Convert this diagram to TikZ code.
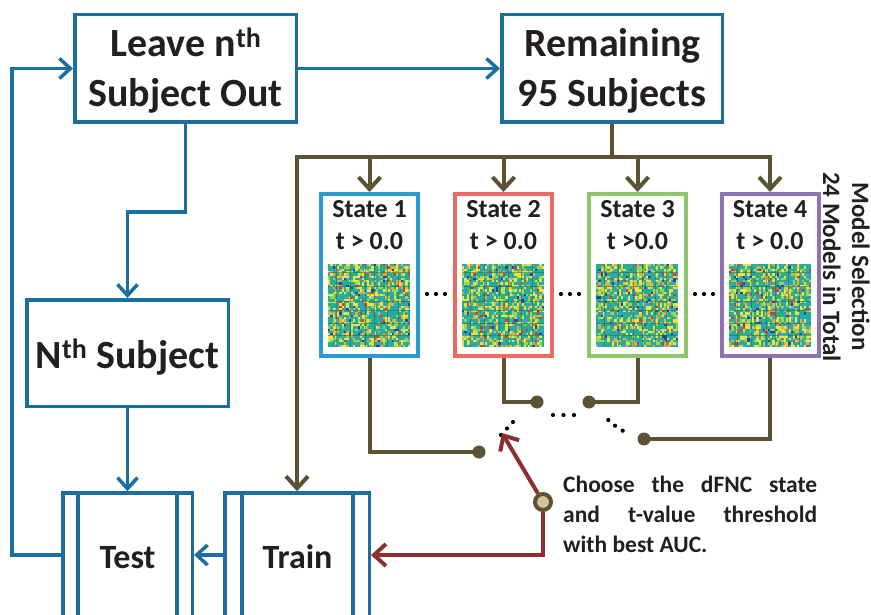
\documentclass[tikz,border=0pt]{standalone}
\usepackage{fontspec}
\setmainfont{Carlito}
\usetikzlibrary{arrows.meta}
\definecolor{mblue}{HTML}{1B6FA0}
\definecolor{mbrown}{HTML}{5C5234}
\definecolor{mred}{HTML}{8E2E2E}
\definecolor{mtan}{HTML}{D3C39D}
\definecolor{mtext}{HTML}{231F20}
\definecolor{sone}{HTML}{2A9BD2}
\definecolor{stwo}{HTML}{EC6A62}
\definecolor{sthree}{HTML}{8DC56B}
\definecolor{sfour}{HTML}{8E74B6}
\definecolor{hmteal}{HTML}{22AE98}
\definecolor{hmyel}{HTML}{F0E23C}
\definecolor{hmlg}{HTML}{A6D050}
\definecolor{hmcy}{HTML}{2FA8CC}
\definecolor{hmor}{HTML}{F0A33A}
\definecolor{hmred}{HTML}{E0392B}
\definecolor{hmblue}{HTML}{2342BE}
\definecolor{hmgrid}{HTML}{2D5F50}
\newcommand{\hmapdraw}[3]{%
  \pgfmathsetseed{#3}%
  \foreach \hi in {0,...,35}{%
    \foreach \hj in {0,...,35}{%
      \pgfmathrandominteger{\hr}{1}{100}%
      \ifnum\hr<44 \def\hc{hmteal}\else
      \ifnum\hr<63 \def\hc{hmyel}\else
      \ifnum\hr<77 \def\hc{hmlg}\else
      \ifnum\hr<89 \def\hc{hmcy}\else
      \ifnum\hr<95 \def\hc{hmor}\else
      \ifnum\hr<98 \def\hc{hmred}\else \def\hc{hmblue}\fi\fi\fi\fi\fi\fi
      \fill[\hc] ({#1+\hi*2.2778},{#2+\hj*2.3056}) rectangle ++(2.35,2.38);
    }}%
  \foreach \hf in {0.1,0.27,0.45,0.56,0.72,0.86}{%
    \draw[hmgrid,opacity=0.5,line width=0.7pt] ({#1+\hf*82},#2) -- ++(0,83);
    \draw[hmgrid,opacity=0.5,line width=0.7pt] (#1,{#2+\hf*83}) -- ++(82,0);
  }%
}
\begin{document}
\begin{tikzpicture}[x=1pt,y=-1pt,
  bigbox/.style={draw=mblue,line width=3.5pt,rectangle,inner sep=0pt},
  sbox/.style={rectangle,line width=4pt,inner sep=0pt,minimum width=97pt,minimum height=162pt},
  bl/.style={draw=mblue,line width=3.5pt},
  br/.style={draw=mbrown,line width=4pt},
  rd/.style={draw=mred,line width=4pt},
  blarrow/.style={-{Straight Barb[length=11pt,width=20pt]}},
  brarrow/.style={-{Straight Barb[length=12pt,width=22pt]}},
  bigtxt/.style={font=\bfseries\fontsize{40}{48}\selectfont,text=mtext,inner sep=0pt,anchor=base},
  midtxt/.style={font=\bfseries\fontsize{34}{40}\selectfont,text=mtext,inner sep=0pt,anchor=base},
  statetxt/.style={font=\bfseries\fontsize{26}{32}\selectfont,text=mtext,inner sep=0pt,anchor=base},
  sidetxt/.style={font=\bfseries\fontsize{25}{30}\selectfont,text=mtext,inner sep=0pt,anchor=base,rotate=-90},
  notetxt/.style={font=\bfseries\fontsize{23.5}{30}\selectfont,text=mtext,inner sep=0pt,anchor=base west},
  bdot/.style={circle,fill=mbrown,inner sep=0pt,minimum size=13pt},
  ldot/.style={fill=black}
]
\useasboundingbox (0,0) rectangle (871,615);
\fill[white] (0,0) rectangle (871,615);
\clip (0,0) rectangle (871,615);

% main boxes
\node[bigbox,minimum width=221.5pt,minimum height=107.5pt] (leave) at (185.5,68.5) {};
\node[bigbox,minimum width=220.5pt,minimum height=107.5pt] (remain) at (612,68.5) {};
\node[bigbox,minimum width=201.5pt,minimum height=106.5pt] (nth) at (127.5,353) {};
\node[bigbox,minimum width=129.5pt,minimum height=124pt] (test) at (127.5,555) {};
\node[bigbox,minimum width=144.5pt,minimum height=124pt] (train) at (297,555) {};
\draw[bl] ([xshift=17pt]test.north west) -- ([xshift=17pt]test.south west);
\draw[bl] ([xshift=-17pt]test.north east) -- ([xshift=-17pt]test.south east);
\draw[bl] ([xshift=19pt]train.north west) -- ([xshift=19pt]train.south west);
\draw[bl] ([xshift=-18pt]train.north east) -- ([xshift=-18pt]train.south east);

% texts of main boxes
\node[bigtxt] (leaveA) at (186,57) {Leave n\textsuperscript{th}};
\node[bigtxt] (leaveB) at (185.5,107) {Subject Out};
\node[bigtxt] (remainA) at (612.5,57) {Remaining};
\node[bigtxt] (remainB) at (612,107) {95 Subjects};
\node[bigtxt] (nthA) at (127.5,368) {N\textsuperscript{th} Subject};
\node[midtxt] (testA) at (127.5,568) {Test};
\node[midtxt] (trainA) at (297.5,568) {Train};

% state boxes
\node[sbox,draw=sone] (s1) at (369.5,275) {};
\node[sbox,draw=stwo] (s2) at (503.5,275) {};
\node[sbox,draw=sthree] (s3) at (637.5,275) {};
\node[sbox,draw=sfour] (s4) at (770,275) {};
\node[statetxt] (s1a) at (369.5,218) {State 1};
\node[statetxt] (s1b) at (369.5,250) {t > 0.0};
\node[statetxt] (s2a) at (503.5,218) {State 2};
\node[statetxt] (s2b) at (503.5,250) {t > 0.0};
\node[statetxt] (s3a) at (637.5,218) {State 3};
\node[statetxt] (s3b) at (637.5,250) {t >0.0};
\node[statetxt] (s4a) at (770,218) {State 4};
\node[statetxt] (s4b) at (770,250) {t > 0.0};
\hmapdraw{328}{264}{11}
\hmapdraw{462}{264}{23}
\hmapdraw{596}{264}{37}
\hmapdraw{729}{264}{51}

% ellipses between boxes
\foreach \ex in {427,436,445,561,570,579,695,704,713}{\fill[ldot] (\ex,294) circle (2.1);}

% side text
\node[sidetxt] (side1) at (852,266.5) {Model Selection};
\node[sidetxt] (side2) at (823,267) {24 Models in Total};

% blue connectors
\coordinate (lp) at (12,0);
\draw[bl,blarrow] (leave) -- (remain);
\draw[bl,blarrow] (test.west) -- (test.west -| lp) |- (leave.west);
\draw[bl,blarrow] (leave.south) -- ++(0,88) -| (nth.north);
\draw[bl,blarrow] (nth) -- (test);
\draw[bl,blarrow] (train) -- (test);

% brown connectors
\coordinate (bus) at (0,157);
\draw[br] (remain.south) -- (remain.south |- bus);
\draw[br,brarrow] (remain.south |- bus) -| (s4.north);
\draw[br,brarrow] (remain.south |- bus) -| (train.north);
\draw[br,brarrow] (s1.north |- bus) -- (s1.north);
\draw[br,brarrow] (s2.north |- bus) -- (s2.north);
\draw[br,brarrow] (s3.north |- bus) -- (s3.north);

\node[bdot] (d1) at (479,452) {};
\node[bdot] (d2) at (537,402) {};
\node[bdot] (d3) at (589,402) {};
\node[bdot] (d4) at (644,439) {};
\draw[br] (s1.south) |- (d1.center);
\draw[br] (s2.south) |- (d2.center);
\draw[br] (s3.south) |- (d3.center);
\draw[br] (s4.south) |- (d4.center);

% dotted choices
\foreach \px/\py in {553/415,563.5/415,574/415,501/435,507/428.5,513/422,608.3/420,615/425.7,622.7/430.7}{\fill[ldot] (\px,\py) circle (2.1);}

% red selection
\node[circle,draw=mbrown,fill=mtan,line width=4pt,inner sep=0pt,minimum size=16pt] (ch) at (543,502) {};
\coordinate (tip) at (502,433);
\draw[rd,brarrow] (ch) -- (tip);
\draw[rd,brarrow] (ch) |- (train.east);

% note text
\node[notetxt] (c1) at (563,492) {\makebox[254pt][s]{Choose the dFNC state}};
\node[notetxt] (c2) at (563,522) {\makebox[254pt][s]{and t-value threshold}};
\node[notetxt] (c3) at (563,552) {with best AUC.};
\end{tikzpicture}
\end{document}
